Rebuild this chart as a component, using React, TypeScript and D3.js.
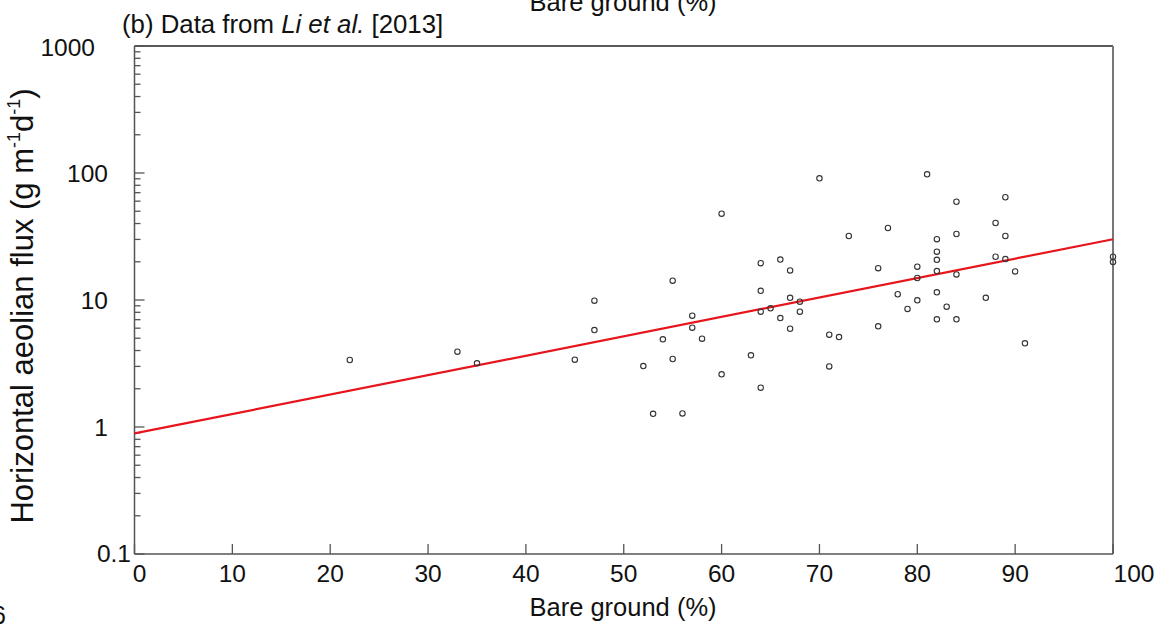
import React from 'react';
import * as d3 from 'd3';

// bare ground (%) vs horizontal aeolian flux
const bareGround = [
  22, 33, 35, 45, 47, 47, 52, 53, 54, 55, 55, 56, 57, 57, 58, 60, 60, 63,
  64, 64, 64, 64, 65, 66, 66, 67, 67, 67, 68, 68, 70, 71, 71, 72, 73, 76,
  76, 77, 78, 79, 80, 80, 80, 81, 82, 82, 82, 82, 82, 82, 83, 84, 84, 84,
  84, 87, 88, 88, 89, 89, 89, 90, 91, 100, 100,
];
const flux = [
  3.37, 3.92, 3.17, 3.39, 9.87, 5.8, 3.02, 1.27, 4.9, 14.2, 3.43, 1.28, 7.52, 6.05, 4.96, 47.8, 2.6, 3.67,
  19.5, 11.8, 8.09, 2.04, 8.6, 20.8, 7.21, 17.1, 10.4, 5.94, 9.7, 8.09, 90.8, 5.33, 3.0, 5.11, 31.9, 17.8,
  6.21, 36.9, 11.1, 8.5, 18.3, 14.9, 9.94, 97.7, 30.1, 24.0, 20.7, 16.9, 11.5, 7.05, 8.86, 59.4, 33.1, 15.9,
  7.05, 10.4, 40.4, 21.9, 64.4, 31.9, 21.0, 16.8, 4.56, 21.9, 19.9,
];

// exponential fit drawn in red (end points)
const fitX = [0, 100];
const fitY = [0.89, 30.1];

const xTicks = [0, 10, 20, 30, 40, 50, 60, 70, 80, 90, 100];
const yTicks = [0.1, 1, 10, 100, 1000];
const yTickLabels = ['0.1', '1', '10', '100', '1000'];

const W = 1167;
const H = 629;
const margin = { top: 46, right: 54, bottom: 75, left: 134.5 };
const FONT = "'Liberation Sans', Arial, sans-serif";
const AXIS = '#555';

export default function App() {
  const x = d3.scaleLinear().domain([0, 100]).range([margin.left, W - margin.right]);
  const y = d3.scaleLog().domain([0.1, 1000]).range([H - margin.bottom, margin.top]);

  const minor: number[] = [];
  for (let p = -1; p < 3; p++) {
    for (let m = 2; m <= 9; m++) minor.push(m * Math.pow(10, p));
  }

  const line = d3.line<number>()
    .x((_, i) => x(fitX[i]))
    .y((d) => y(d));

  const x0 = x(0), x1 = x(100), y0 = y(0.1), y1 = y(1000);

  // the original figure nudges a few labels off their ticks
  const xLabelShift = (v: number) => (v === 0 ? 5 : v === 100 ? 21 : 0);
  const yLabelPos = (v: number) =>
    v === 1000 ? { x: 95, dy: 1 } : v === 0.1 ? { x: 131, dy: -1 } : { x: 108, dy: 0 };

  return (
    <svg width={W} height={H} style={{ position: 'absolute', left: 0, top: 0, background: '#fff' }}>
      {/* cut-off labels from neighbouring panels */}
      <text x={623} y={11} textAnchor="middle" fontFamily={FONT} fontSize={25.5} fill="#111">Bare ground (%)</text>
      <text x={6} y={624} textAnchor="end" fontFamily={FONT} fontSize={25} fill="#111">6</text>

      <text x={122} y={33} fontFamily={FONT} fontSize={25.8} fill="#111">
        (b) Data from <tspan fontStyle="italic">Li et al.</tspan> [2013]
      </text>

      {/* frame */}
      <line x1={x0} x2={x1} y1={y1} y2={y1} stroke="#222" strokeWidth={1.5} />
      <line x1={x1} x2={x1} y1={y1} y2={y0} stroke="#777" strokeWidth={2} />
      <line x1={x0} x2={x0} y1={y1} y2={y0} stroke={AXIS} strokeWidth={1.5} />
      <line x1={x0} x2={x1} y1={y0} y2={y0} stroke={AXIS} strokeWidth={1.5} />

      {/* y ticks */}
      {minor.map((v) => (
        <line key={'m' + v} x1={x0} x2={x0 + 6} y1={y(v)} y2={y(v)} stroke={AXIS} strokeWidth={1.3} />
      ))}
      {yTicks.map((v) => (
        <line key={'M' + v} x1={x0} x2={x0 + 10} y1={y(v)} y2={y(v)} stroke={AXIS} strokeWidth={1.3} />
      ))}
      {yTicks.map((v, i) => {
        const p = yLabelPos(v);
        return (
          <text key={'yl' + v} x={p.x} y={y(v) + p.dy} dy="0.35em" textAnchor="end"
            fontFamily={FONT} fontSize={24.5} fill="#111">{yTickLabels[i]}</text>
        );
      })}

      {/* x ticks */}
      {xTicks.map((v) => (
        <line key={'xt' + v} x1={x(v)} x2={x(v)} y1={y0} y2={y0 - 10} stroke={AXIS} strokeWidth={1.3} />
      ))}
      {xTicks.map((v) => (
        <text key={'xl' + v} x={x(v) + xLabelShift(v)} y={y0 + 28} textAnchor="middle"
          fontFamily={FONT} fontSize={24.5} fill="#111">{v}</text>
      ))}

      <text x={623} y={616} textAnchor="middle" fontFamily={FONT} fontSize={25.5} fill="#111">Bare ground (%)</text>

      <text transform={`translate(33,306) rotate(-90)`} textAnchor="middle"
        fontFamily={FONT} fontSize={31} fill="#111">
        Horizontal aeolian flux (g m<tspan fontSize={18} dy={-13}>-1</tspan>
        <tspan dy={13}>d</tspan><tspan fontSize={18} dy={-13}>-1</tspan><tspan dy={13}>)</tspan>
      </text>

      {/* regression line */}
      <path d={line(fitY) || ''} fill="none" stroke="#e8141c" strokeWidth={2.2} />

      {/* observations */}
      {bareGround.map((b, i) => (
        <circle key={'p' + i} cx={x(b)} cy={y(flux[i])} r={2.7} fill="none" stroke="#333" strokeWidth={1.1} />
      ))}
    </svg>
  );
}
